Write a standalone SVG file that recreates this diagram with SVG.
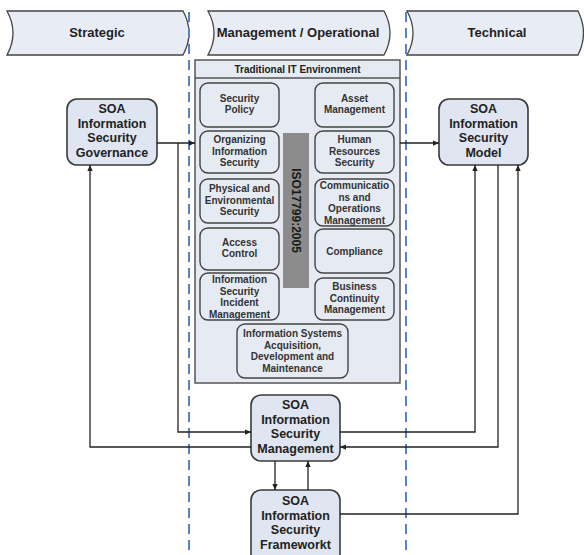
<svg xmlns="http://www.w3.org/2000/svg" width="584" height="555" viewBox="0 0 584 555">
<style>
text{font-family:"Liberation Sans",Arial,sans-serif;font-weight:bold;text-anchor:middle;fill:#222}
.banner{fill:#e8edf5;stroke:#444;stroke-width:1.3}
.node{fill:#dfe6f1;stroke:#3a3a3a;stroke-width:1.6}
.inner{fill:#e6ebf3;stroke:#444;stroke-width:1.4}
.env{fill:#e6ebf3;stroke:#555;stroke-width:1.5}
.big{font-size:12.5px}
.ban{font-size:13px}
.sm{font-size:10px;fill:#333}
.dash{stroke:#5a82c8;stroke-width:2;stroke-dasharray:10 6;fill:none}
.conn path{fill:none;stroke:#222;stroke-width:1.3}
</style>
<defs>
<marker id="arr" viewBox="0 0 8 8" refX="8" refY="4" markerWidth="6" markerHeight="6" orient="auto" markerUnits="userSpaceOnUse">
<path d="M0,0.5 L8,4 L0,7.5 Z" fill="#222"/>
</marker>
</defs>
<rect width="584" height="555" fill="#fff"/>

<g id="banners">
<g id="strategic"><path class="banner" d="M7,11 H183 Q195,33 183,55 H7 Q19,33 7,11 Z"/><text class="ban" x="97" y="37">Strategic</text></g>
<g id="management-operational"><path class="banner" d="M208,11 H384 Q396,33 384,55 H208 Q220,33 208,11 Z"/><text class="ban" x="298" y="37">Management / Operational</text></g>
<g id="technical"><path class="banner" d="M407,11 H578 Q589,33 578,55 H407 Q419,33 407,11 Z"/><text class="ban" x="497" y="37">Technical</text></g>
</g>

<g id="dividers">
<line class="dash" x1="189" y1="12" x2="189" y2="555"/>
<line class="dash" x1="406" y1="12" x2="406" y2="555"/>
</g>

<g id="traditional-it">
<rect class="env" x="195" y="60" width="205" height="323"/>
<line x1="195" y1="78" x2="400" y2="78" stroke="#555" stroke-width="1.3"/>
<text class="sm" x="297.5" y="73" style="fill:#222">Traditional IT Environment</text>
<g id="iso-bar"><rect x="283" y="133" width="26" height="155" fill="#8c8c8c"/>
<text transform="translate(296,210.5) rotate(90)" y="4" style="font-size:12px;fill:#1a1a1a">ISO17799:2005</text></g>

<g id="security-policy"><rect class="inner" x="200" y="83" width="79" height="44" rx="8"/>
<text class="sm" x="239.5" y="101.5">Security</text><text class="sm" x="239.5" y="113">Policy</text></g>
<g id="asset-management"><rect class="inner" x="315" y="83" width="79" height="44" rx="8"/>
<text class="sm" x="354.5" y="101.5">Asset</text><text class="sm" x="354.5" y="113">Management</text></g>
<g id="organizing"><rect class="inner" x="200" y="131" width="79" height="42" rx="8"/>
<text class="sm" x="239.5" y="143">Organizing</text><text class="sm" x="239.5" y="154.5">Information</text><text class="sm" x="239.5" y="166">Security</text></g>
<g id="human-resources"><rect class="inner" x="315" y="131" width="79" height="42" rx="8"/>
<text class="sm" x="354.5" y="143">Human</text><text class="sm" x="354.5" y="154.5">Resources</text><text class="sm" x="354.5" y="166">Security</text></g>
<g id="physical"><rect class="inner" x="200" y="179" width="79" height="44" rx="8"/>
<text class="sm" x="239.5" y="192">Physical and</text><text class="sm" x="239.5" y="203.5">Environmental</text><text class="sm" x="239.5" y="215">Security</text></g>
<g id="communications"><rect class="inner" x="315" y="179" width="79" height="47" rx="8"/>
<text class="sm" x="354.5" y="189">Communicatio</text><text class="sm" x="354.5" y="200.5">ns and</text><text class="sm" x="354.5" y="212">Operations</text><text class="sm" x="354.5" y="223.5">Management</text></g>
<g id="access-control"><rect class="inner" x="200" y="228" width="79" height="42" rx="8"/>
<text class="sm" x="239.5" y="245.5">Access</text><text class="sm" x="239.5" y="257">Control</text></g>
<g id="compliance"><rect class="inner" x="315" y="229" width="79" height="44" rx="8"/>
<text class="sm" x="354.5" y="254.5">Compliance</text></g>
<g id="incident"><rect class="inner" x="200" y="273" width="79" height="47" rx="8"/>
<text class="sm" x="239.5" y="283">Information</text><text class="sm" x="239.5" y="294.5">Security</text><text class="sm" x="239.5" y="306">Incident</text><text class="sm" x="239.5" y="317.5">Management</text></g>
<g id="business-continuity"><rect class="inner" x="315" y="278" width="79" height="42" rx="8"/>
<text class="sm" x="354.5" y="290">Business</text><text class="sm" x="354.5" y="301.5">Continuity</text><text class="sm" x="354.5" y="313">Management</text></g>
<g id="information-systems"><rect class="inner" x="237" y="324" width="111" height="54" rx="8"/>
<text class="sm" x="292.5" y="337">Information Systems</text><text class="sm" x="292.5" y="348.5">Acquisition,</text><text class="sm" x="292.5" y="360">Development and</text><text class="sm" x="292.5" y="371.5">Maintenance</text></g>
</g>

<g id="governance"><rect class="node" x="67" y="99" width="90" height="66" rx="10"/>
<text class="big" x="112" y="113">SOA</text><text class="big" x="112" y="127.5">Information</text><text class="big" x="112" y="142">Security</text><text class="big" x="112" y="156.5">Governance</text></g>

<g id="model"><rect class="node" x="439" y="99" width="89" height="66" rx="10"/>
<text class="big" x="483.5" y="113">SOA</text><text class="big" x="483.5" y="127.5">Information</text><text class="big" x="483.5" y="142">Security</text><text class="big" x="483.5" y="156.5">Model</text></g>

<g id="sec-management"><rect class="node" x="251" y="395" width="89" height="66" rx="10"/>
<text class="big" x="295.5" y="409">SOA</text><text class="big" x="295.5" y="423.5">Information</text><text class="big" x="295.5" y="438">Security</text><text class="big" x="295.5" y="452.5">Management</text></g>

<g id="framework"><rect class="node" x="251" y="490" width="89" height="75" rx="10"/>
<text class="big" x="295.5" y="505">SOA</text><text class="big" x="295.5" y="519.5">Information</text><text class="big" x="295.5" y="534">Security</text><text class="big" x="295.5" y="548.5">Frameworkt</text></g>

<g id="connectors" class="conn">
<path d="M157,143 H195" marker-end="url(#arr)"/>
<path d="M178,143 V432 H251" marker-end="url(#arr)"/>
<path d="M251,447 H90 V165" marker-end="url(#arr)"/>
<path d="M400,143 H439" marker-end="url(#arr)"/>
<path d="M340,432 H475 V165" marker-end="url(#arr)"/>
<path d="M498,165 V447 H340" marker-end="url(#arr)"/>
<path d="M340,514 H518 V165" marker-end="url(#arr)"/>
<path d="M275,461 V490" marker-end="url(#arr)"/>
<path d="M308,490 V461" marker-end="url(#arr)"/>
</g>
</svg>
